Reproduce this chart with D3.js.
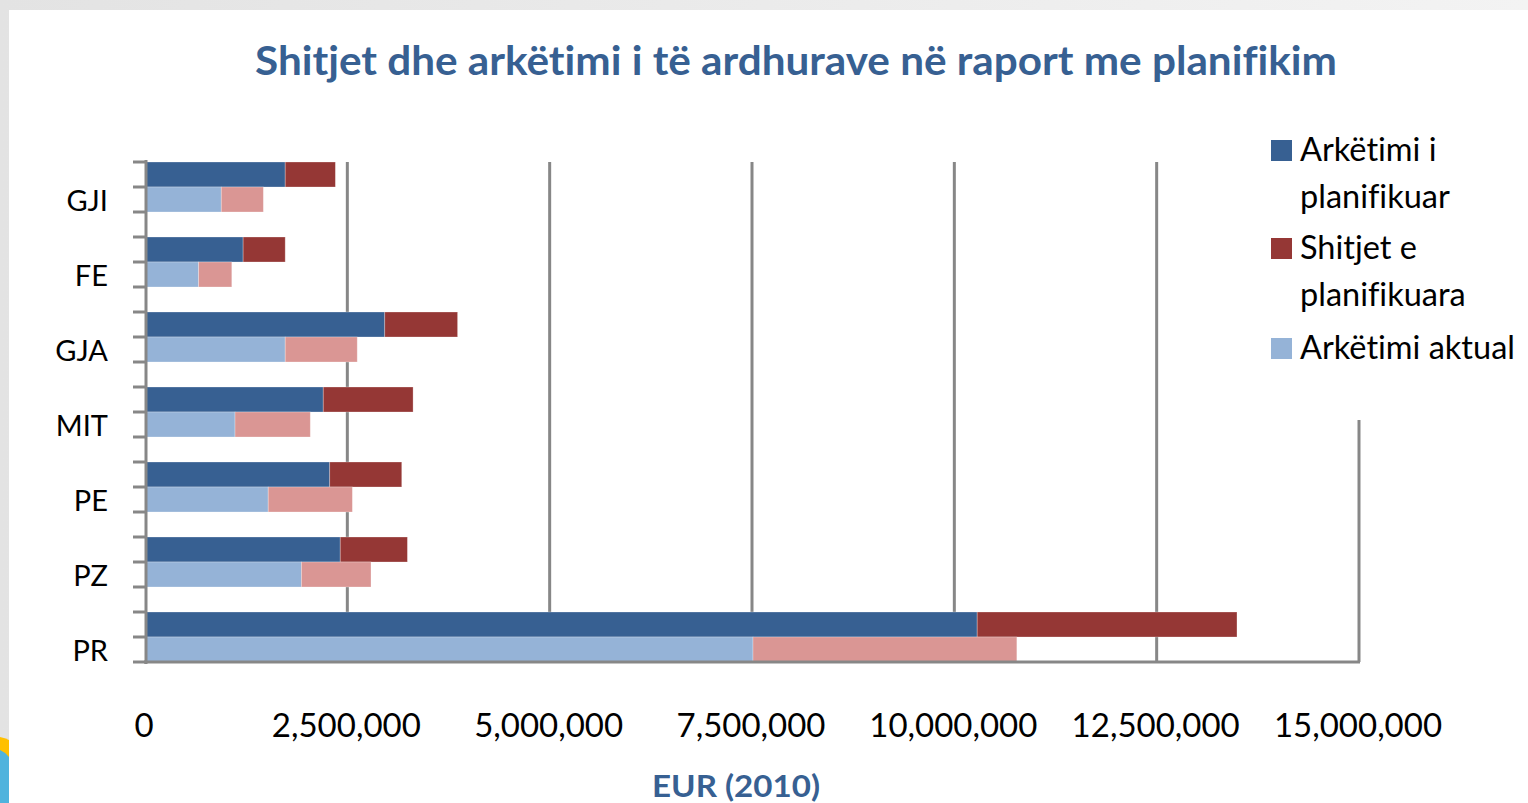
<!DOCTYPE html>
<html>
<head>
<meta charset="utf-8">
<script src="https://cdn.jsdelivr.net/npm/d3@7"></script>
<style>
  html, body { margin: 0; padding: 0; background: #fff; }
  svg { display: block; }
  text { font-variant-ligatures: none; font-feature-settings: "liga" 0, "clig" 0; }
</style>
</head>
<body>
<svg id="chart" width="1528" height="803"></svg>
<script>
// ── Data ────────────────────────────────────────────────────
const categories = ['GJI', 'FE', 'GJA', 'MIT', 'PE', 'PZ', 'PR'];
// planned bar: collection + rest of planned sales
const plannedCollection = [1.72e6, 1.20e6, 2.95e6, 2.19e6, 2.27e6, 2.40e6, 10.27e6];
const plannedSalesRest  = [0.62e6, 0.52e6, 0.90e6, 1.11e6, 0.89e6, 0.83e6, 3.21e6];
// actual bar: collection + rest of actual sales
const actualCollection  = [0.93e6, 0.65e6, 1.72e6, 1.10e6, 1.51e6, 1.92e6, 7.50e6];
const actualSalesRest   = [0.52e6, 0.41e6, 0.89e6, 0.93e6, 1.04e6, 0.86e6, 3.26e6];
const xTicks = [0, 2.5e6, 5e6, 7.5e6, 10e6, 12.5e6, 15e6];
const legendItems = [
  { lines: ['Arkëtimi i', 'planifikuar'], color: '#376092' },
  { lines: ['Shitjet e', 'planifikuara'], color: '#953735' },
  { lines: ['Arkëtimi aktual'], color: '#95B3D7' }
];

const COLORS = {
  planCol: '#376092', planSales: '#953735',
  actCol: '#95B3D7', actSales: '#DA9694',
  grid: '#878787', title: '#376092'
};

const svg = d3.select('#chart');

// ── Slide background ────────────────────────────────────────
const defs = svg.append('defs');
const grad = defs.append('linearGradient').attr('id', 'bg').attr('x1', 0).attr('x2', 1);
grad.append('stop').attr('offset', 0).attr('stop-color', '#e3e3e3');
grad.append('stop').attr('offset', 1).attr('stop-color', '#f3f3f3');
svg.append('rect').attr('width', 1528).attr('height', 803).attr('fill', 'url(#bg)');
svg.append('rect').attr('x', 9).attr('y', 10).attr('width', 1519).attr('height', 793).attr('fill', '#fff');
// corner decoration
svg.append('path').attr('d', 'M0,737 Q5,738 9,740 L9,803 L0,803 Z').attr('fill', '#FFC000');
svg.append('path').attr('d', 'M0,750 Q5,752 9,757 L9,803 L0,803 Z').attr('fill', '#4FB3DD');

// ── Scales ──────────────────────────────────────────────────
const x = d3.scaleLinear().domain([0, 15e6]).range([146, 1360]);
const y = d3.scaleBand().domain(categories).range([162, 662])
  .paddingInner(1 / 3).paddingOuter(0).align(0);
const half = y.bandwidth() / 2;

// ── Gridlines ───────────────────────────────────────────────
svg.append('g').selectAll('line')
  .data(xTicks.filter(d => d > 0))
  .join('line')
  .attr('x1', d => x(d) - 1).attr('x2', d => x(d) - 1)
  .attr('y1', 162).attr('y2', 662)
  .attr('stroke', COLORS.grid).attr('stroke-width', 3);

// ── Bars ────────────────────────────────────────────────────
const rows = categories.map((c, i) => ({
  cat: c,
  planCol: plannedCollection[i], planSales: plannedSalesRest[i],
  actCol: actualCollection[i], actSales: actualSalesRest[i]
}));

const planStack = d3.stack().keys(['planCol', 'planSales'])(rows);
const actStack = d3.stack().keys(['actCol', 'actSales'])(rows);

const barG = svg.append('g');
function drawStack(stack, offset) {
  stack.forEach(layer => {
    barG.append('g').attr('fill', COLORS[layer.key])
      .selectAll('rect')
      .data(layer)
      .join('rect')
      .attr('x', d => x(d[0]))
      .attr('width', d => x(d[1]) - x(d[0]))
      .attr('y', d => y(d.data.cat) + offset)
      .attr('height', half)
      .attr('stroke', '#fff').attr('stroke-opacity', 0.35).attr('stroke-width', 0.8);
  });
}
drawStack(planStack, 0);
drawStack(actStack, half);

// ── Axes ────────────────────────────────────────────────────
const axisG = svg.append('g').attr('stroke', COLORS.grid).attr('stroke-width', 3);
axisG.append('line').attr('x1', 146).attr('x2', 146).attr('y1', 160).attr('y2', 664);
axisG.append('line').attr('x1', 144).attr('x2', 1360).attr('y1', 662).attr('y2', 662);
axisG.selectAll('.tick')
  .data(d3.range(0, categories.length * 3))
  .join('line')
  .attr('x1', 133).attr('x2', 146)
  .attr('y1', i => 162 + i * half).attr('y2', i => 162 + i * half);

// category labels
svg.append('g').selectAll('text')
  .data(categories)
  .join('text')
  .attr('x', 108)
  .attr('y', d => y(d) + half * 1.5 + 11)
  .attr('text-anchor', 'end')
  .attr('font-family', 'Lato, sans-serif')
  .attr('font-size', 29)
  .attr('fill', '#000')
  .text(d => d);

// value tick labels
const fmt = d3.format(',');
svg.append('g').selectAll('text')
  .data(xTicks)
  .join('text')
  .attr('x', d => x(d) - 2)
  .attr('y', 737)
  .attr('text-anchor', 'middle')
  .attr('font-family', 'Lato, sans-serif')
  .attr('font-size', 33)
  .attr('fill', '#000')
  .text(d => fmt(d));

// ── Titles ──────────────────────────────────────────────────
svg.append('text')
  .attr('x', 255).attr('y', 75)
  .attr('font-family', 'Lato, sans-serif')
  .attr('font-weight', 'bold')
  .attr('font-size', 41)
  .attr('fill', COLORS.title)
  .attr('textLength', 1082).attr('lengthAdjust', 'spacingAndGlyphs')
  .text('Shitjet dhe arkëtimi i të ardhurave në raport me planifikim');

svg.append('text')
  .attr('x', 652).attr('y', 797)
  .attr('font-family', 'Lato, sans-serif')
  .attr('font-weight', 'bold')
  .attr('font-size', 31)
  .attr('fill', COLORS.title)
  .attr('textLength', 168).attr('lengthAdjust', 'spacingAndGlyphs')
  .text('EUR (2010)');

// ── Legend ──────────────────────────────────────────────────
svg.append('rect').attr('x', 1262).attr('y', 118).attr('width', 266).attr('height', 302).attr('fill', '#fff');
const baselines = [161, 259, 359];
const lg = svg.append('g').selectAll('g')
  .data(legendItems)
  .join('g')
  .attr('transform', (d, i) => `translate(0,${baselines[i]})`);
lg.append('rect')
  .attr('x', 1271).attr('y', -21).attr('width', 21).attr('height', 21)
  .attr('fill', d => d.color);
lg.append('text')
  .attr('font-family', 'Lato, sans-serif')
  .attr('font-size', 32.5)
  .attr('fill', '#000')
  .selectAll('tspan')
  .data(d => d.lines)
  .join('tspan')
  .attr('x', 1300)
  .attr('y', (d, i) => i * 47)
  .text(d => d);
</script>
</body>
</html>
